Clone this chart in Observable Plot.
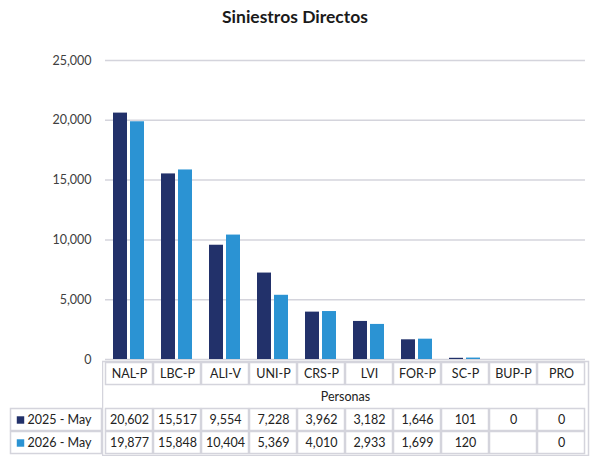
<!DOCTYPE html>
<html>
<head>
<meta charset="utf-8">
<script src="https://cdn.jsdelivr.net/npm/d3@7"></script>
<script src="https://cdn.jsdelivr.net/npm/@observablehq/plot@0.6"></script>
<style>
  body { margin: 0; background: #fff; font-family: Lato, "Noto Sans", sans-serif; }
  #wrap { position: relative; width: 590px; height: 457px; }
  #title { position: absolute; top: 6px; left: 0; width: 590px; text-align: center; font-weight: bold; font-size: 17.5px; color: #1a1a1a; }
  #chart { position: absolute; top: 40px; left: 0; }
  #tlabel { position: absolute; top: 360px; left: 0; }
  #tbody { position: absolute; top: 360px; left: 102px; }
</style>
</head>
<body>
<div id="wrap">
  <div id="title">Siniestros Directos</div>
  <div id="chart"></div>
  <div id="tlabel"></div>
  <div id="tbody"></div>
</div>
<script>
const categories = ["NAL-P", "LBC-P", "ALI-V", "UNI-P", "CRS-P", "LVI", "FOR-P", "SC-P", "BUP-P", "PRO"];
const seriesNames = ["2025 - May", "2026 - May"];
const values2025 = [20602, 15517, 9554, 7228, 3962, 3182, 1646, 101, 0, 0];
const values2026 = [19877, 15848, 10404, 5369, 4010, 2933, 1699, 120, null, 0];
const groupLabel = "Personas";
const yTicks = [0, 5000, 10000, 15000, 20000, 25000];
const colors = ["#22316a", "#2b93d3"];

const data = [];
categories.forEach((c, i) => {
  data.push({cat: c, series: seriesNames[0], value: values2025[i]});
  data.push({cat: c, series: seriesNames[1], value: values2026[i]});
});

const fmt = d3.format(",");
const gridColor = "#d4d4dc";

const chart = Plot.plot({
  width: 590,
  height: 330,
  marginTop: 20,
  marginBottom: 11,
  marginLeft: 102,
  marginRight: 2,
  style: {fontFamily: "Lato, 'Noto Sans', sans-serif", fontSize: "12px", color: "#404040", background: "transparent", overflow: "visible"},
  fx: {domain: categories, paddingInner: 0, paddingOuter: 0, axis: null, label: null},
  x: {domain: seriesNames, paddingInner: 0.167, paddingOuter: 0.433, axis: null},
  y: {domain: [0, 25000], ticks: yTicks, tickFormat: fmt, label: null},
  color: {domain: seriesNames, range: colors},
  marks: [
    Plot.gridY(yTicks, {stroke: gridColor, strokeOpacity: 1, strokeWidth: 1.5}),
    Plot.axisY(yTicks, {tickSize: 0, tickPadding: 14, tickFormat: fmt, fontSize: 12.5, label: null}),
    Plot.barY(data.filter(d => d.value != null), {fx: "cat", x: "series", y: "value", fill: "series"})
  ]
});
document.getElementById("chart").appendChild(chart);

// Table rows
const rows = ["head", "label", "r0", "r1"];
const cellData = [];
categories.forEach((c, i) => {
  cellData.push({cat: c, row: "head", text: c});
  cellData.push({cat: c, row: "r0", text: values2025[i] == null ? "" : fmt(values2025[i])});
  cellData.push({cat: c, row: "r1", text: values2026[i] == null ? "" : fmt(values2026[i])});
});

const tableStyle = {fontFamily: "Lato, 'Noto Sans', sans-serif", fontSize: "12.5px", color: "#222", background: "transparent"};

const tbody = Plot.plot({
  width: 488,
  height: 96,
  marginTop: 1,
  marginBottom: 1,
  marginLeft: 0,
  marginRight: 2,
  style: tableStyle,
  x: {domain: categories, padding: 0, axis: null},
  y: {domain: rows, padding: 0, axis: null},
  marks: [
    Plot.frame({stroke: gridColor, strokeWidth: 1.5}),
    Plot.cell(cellData, {x: "cat", y: "row", fill: "none", stroke: gridColor, strokeWidth: 1.5, inset: 0.5}),
    Plot.text(cellData, {x: "cat", y: "row", text: "text", fill: "#222", fontSize: 12.5}),
    Plot.text([groupLabel], {y: () => "label", text: d => d, frameAnchor: "middle", fill: "#222", fontSize: 12.5})
  ]
});
document.getElementById("tbody").appendChild(tbody);

const legendRows = [{row: "r0", name: seriesNames[0]}, {row: "r1", name: seriesNames[1]}];
const tlabel = Plot.plot({
  width: 102,
  height: 96,
  marginTop: 1,
  marginBottom: 1,
  marginLeft: 10,
  marginRight: 0,
  style: tableStyle,
  y: {domain: rows, padding: 0, axis: null},
  color: {domain: seriesNames, range: colors},
  marks: [
    Plot.cell(legendRows, {y: "row", fill: "none", stroke: gridColor, strokeWidth: 1.5, inset: 0.5}),
    Plot.dot(legendRows, {y: "row", frameAnchor: "left", dx: 10, symbol: "square", r: 4.2, fill: "name", stroke: null}),
    Plot.text(legendRows, {y: "row", text: "name", frameAnchor: "left", dx: 17, textAnchor: "start", fill: "#222", fontSize: 12.5})
  ]
});
document.getElementById("tlabel").appendChild(tlabel);
</script>
</body>
</html>
